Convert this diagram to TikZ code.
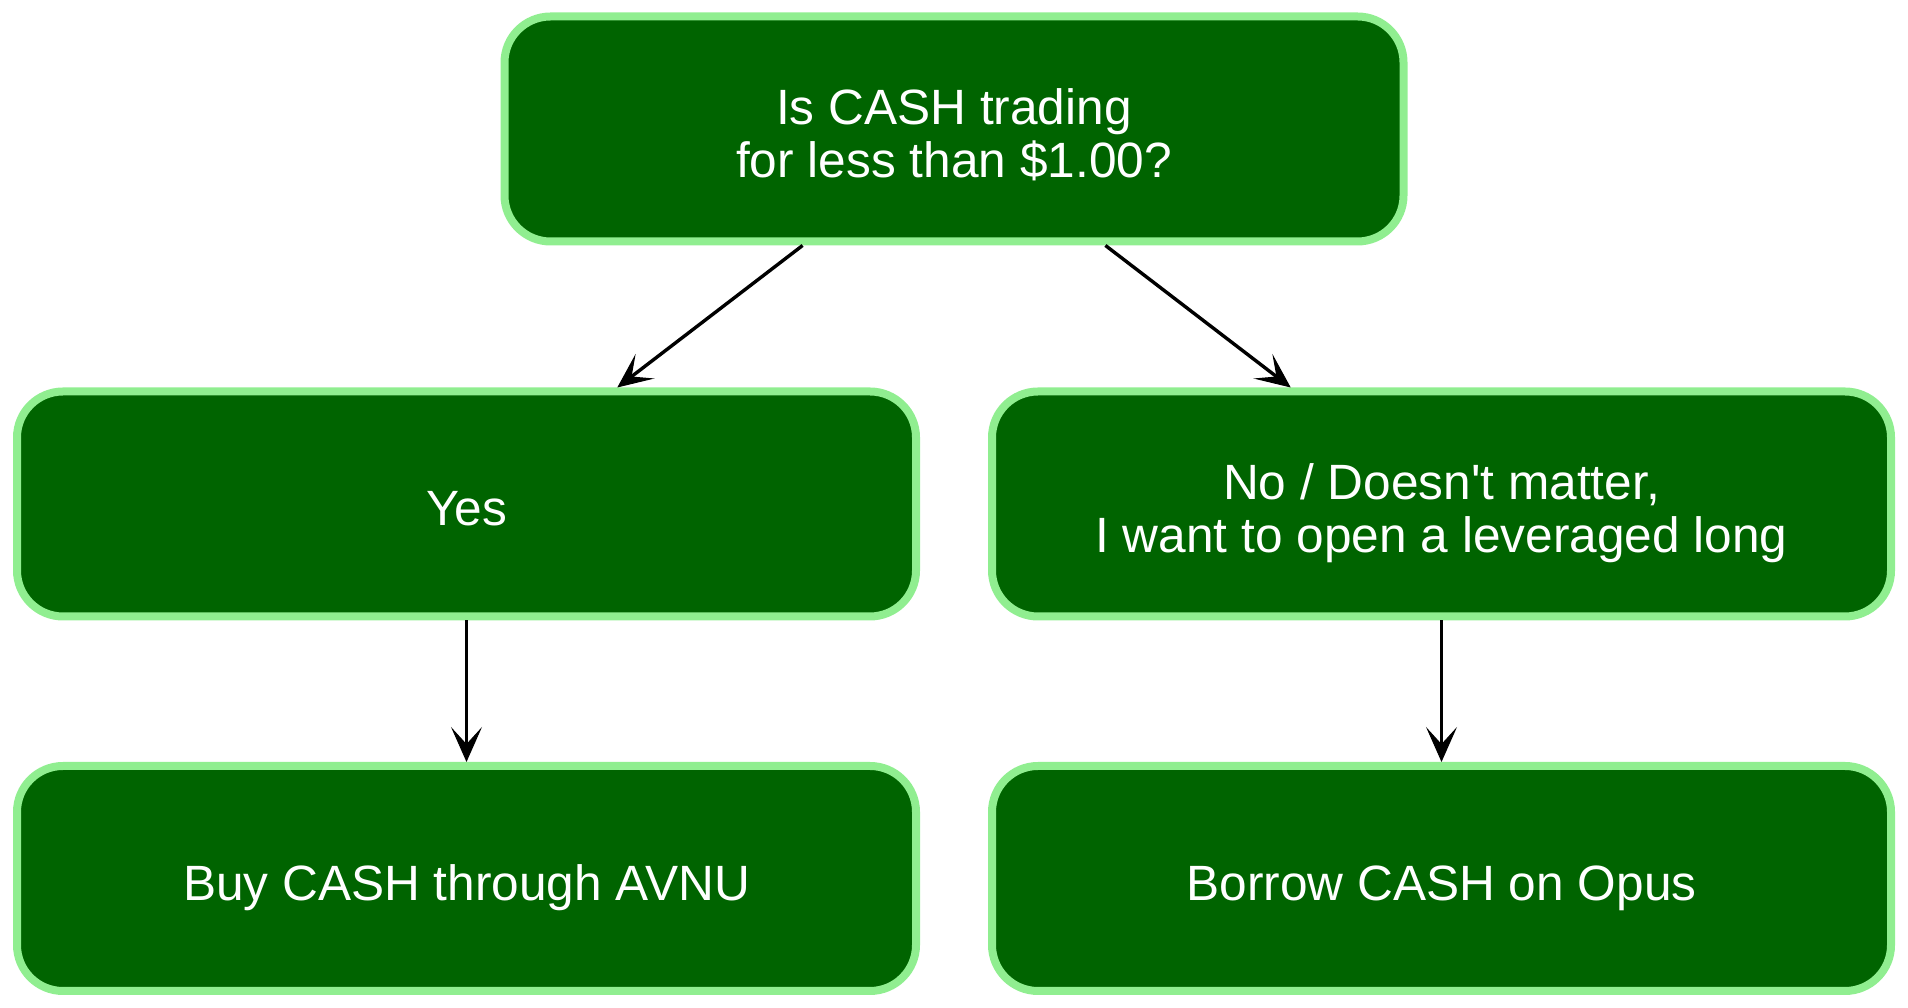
\documentclass[tikz,border=0pt]{standalone}
\usepackage{fontspec}
\setmainfont{Liberation Sans}
\usetikzlibrary{arrows.meta}
\definecolor{boxfill}{HTML}{006400}
\definecolor{boxline}{HTML}{90EE90}
\newcommand{\flowstrut}{\rule[-12pt]{0pt}{68pt}}
\newcommand{\flowfont}{\fontsize{49.6}{53.5}\selectfont\lineskiplimit=-200pt\relax}
\begin{document}
\begin{tikzpicture}[x=1pt,y=1pt,
  flowbox/.style={draw=boxline, fill=boxfill, line width=8pt, rounded corners=46pt,
    minimum width=899pt, minimum height=225pt, text=white, align=center,
    font=\flowfont, inner sep=0pt},
  flowarrow/.style={draw=black, line width=3.4pt,
    -{Stealth[length=35pt, width=31pt, inset=17pt, line width=1pt]}}]
\useasboundingbox (0,0) rectangle (1908,1008);
\node[flowbox] (q) at (954,879) {\flowstrut Is CASH trading\\\flowstrut for less than \$1.00?};
\node[flowbox] (yes) at (466.5,504) {\flowstrut Yes};
\node[flowbox] (no) at (1441.5,504) {\flowstrut No / Doesn\textquotesingle t matter,\\\flowstrut I want to open a leveraged long};
\node[flowbox] (avnu) at (466.5,129.5) {\flowstrut Buy CASH through AVNU};
\node[flowbox] (opus) at (1441.5,129.5) {\flowstrut Borrow CASH on Opus};
\draw[flowarrow] (q) -- (yes);
\draw[flowarrow] (q) -- (no);
\draw[flowarrow] (yes) -- (avnu);
\draw[flowarrow] (no) -- (opus);
\end{tikzpicture}
\end{document}
